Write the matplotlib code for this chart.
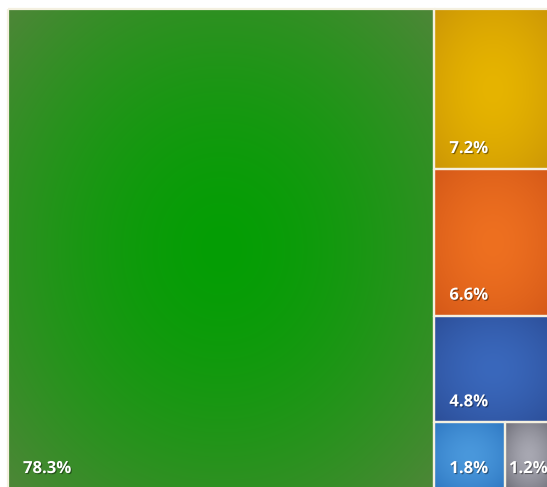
import numpy as np
import matplotlib
matplotlib.use("Agg")
import matplotlib.pyplot as plt
import matplotlib.patheffects as pe
from matplotlib.patches import Rectangle

labels = ["78.3%", "7.2%", "6.6%", "4.8%", "1.8%", "1.2%"]
values = [78.3, 7.2, 6.6, 4.8, 1.8, 1.2]
center_colors = ["#049e04", "#e6b400", "#ee7020", "#3a68bc", "#4a98dc", "#a8a8b2"]
edge_colors = ["#4e8638", "#cc9606", "#d45818", "#2c4e98", "#2f78c2", "#6e6e78"]

W, H = 547, 487
fig = plt.figure(figsize=(W / 100, H / 100), dpi=100)
ax = fig.add_axes([0, 0, 1, 1])
ax.set_xlim(0, W)
ax.set_ylim(H, 0)
ax.axis("off")

# treemap layout area
X0, Y0, TW, TH = 8, 9, 544, 480
total = sum(values)

rects = []
w0 = TW * values[0] / total
rects.append((X0, Y0, w0, TH))
rest = total - values[0]
cw = TW - w0
cx = X0 + w0
y = Y0
for v in values[1:4]:
    h = TH * v / rest
    rects.append((cx, y, cw, h))
    y += h
hb = TH * (values[4] + values[5]) / rest
sub = values[4] + values[5]
x = cx
for v in values[4:6]:
    w = cw * v / sub
    rects.append((x, y, w, hb))
    x += w


def hex2rgb(h):
    return np.array([int(h[i:i + 2], 16) / 255 for i in (1, 3, 5)])


for (rx, ry, rw, rh), cc, ec, lab in zip(rects, center_colors, edge_colors, labels):
    nx, ny = max(int(rw), 2), max(int(rh), 2)
    xs = np.linspace(-1, 1, nx)
    ys = np.linspace(-1, 1, ny)
    XX, YY = np.meshgrid(xs, ys)
    r = np.clip(np.sqrt(XX ** 2 + YY ** 2) / np.sqrt(2), 0, 1)
    t = 1 - r ** 1.6
    img = hex2rgb(ec)[None, None, :] + (hex2rgb(cc) - hex2rgb(ec))[None, None, :] * t[:, :, None]
    ax.imshow(img, extent=(rx, rx + rw, ry + rh, ry), aspect="auto", interpolation="bilinear", zorder=1)
    ax.add_patch(Rectangle((rx, ry), rw, rh, fill=False, edgecolor="#f4f0e0", linewidth=1.6, zorder=2))
    offx = 15 if rw > 60 else 4
    ax.text(rx + offx, ry + rh - 16, lab, color="white", fontsize=12, fontweight="bold",
            family=["Open Sans", "DejaVu Sans"], ha="left", va="baseline", zorder=3,
            path_effects=[pe.withSimplePatchShadow(offset=(0.8, -0.8), shadow_rgbFace="black", alpha=0.4)])

fig.savefig("out.png", dpi=100, facecolor="white")
